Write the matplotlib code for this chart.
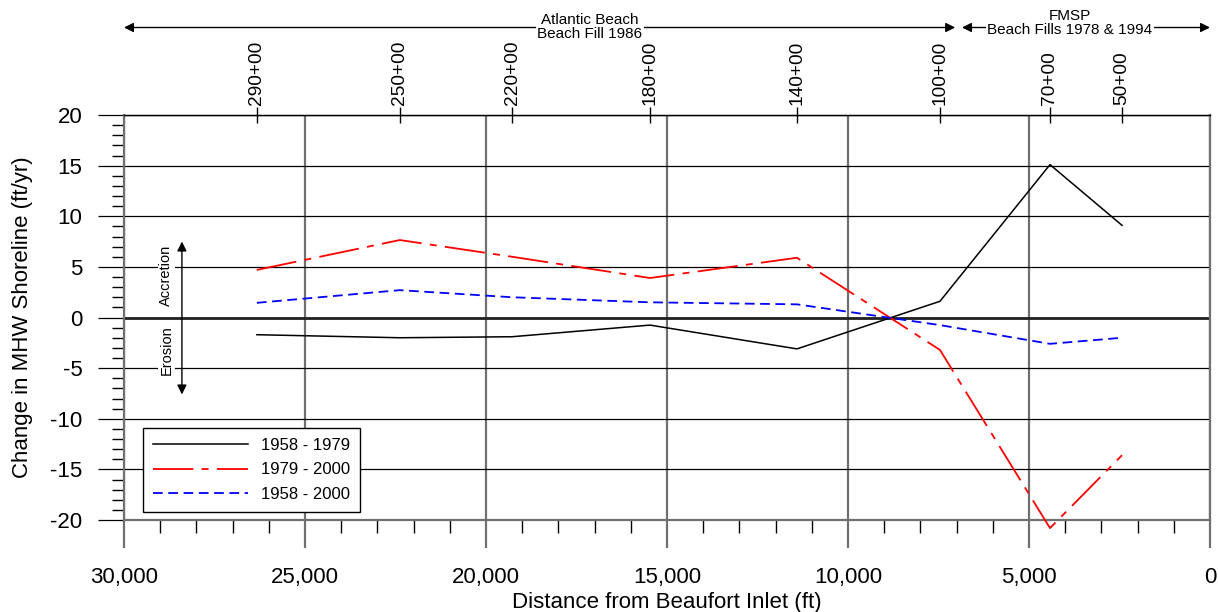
import matplotlib
matplotlib.use("Agg")
from matplotlib import pyplot as plt
from matplotlib.ticker import MultipleLocator, FuncFormatter

plt.rcParams['font.family'] = ['Liberation Sans', 'DejaVu Sans']
plt.rcParams['lines.scale_dashes'] = False

# stations along the beach (distance from Beaufort Inlet, ft)
stations = ["290+00", "250+00", "220+00", "180+00", "140+00", "100+00", "70+00", "50+00"]
distance = [26330, 22380, 19280, 15470, 11410, 7460, 4420, 2430]

# shoreline change rates (ft/yr)
rate_58_79 = [-1.7, -2.0, -1.9, -0.75, -3.1, 1.6, 15.1, 9.1]
rate_79_00 = [4.7, 7.65, 6.0, 3.9, 5.9, -3.2, -20.8, -13.6]
rate_58_00 = [1.45, 2.7, 2.0, 1.5, 1.3, -0.75, -2.6, -2.0]

fig = plt.figure(figsize=(12.18, 6.12), dpi=100)
ax = fig.add_axes([124 / 1218, 92 / 612, 1086 / 1218, 405 / 612])

ax.set_xlim(30000, 0)
ax.set_ylim(-20, 20)

# grid
ax.xaxis.set_major_locator(MultipleLocator(5000))
ax.xaxis.set_minor_locator(MultipleLocator(1000))
ax.yaxis.set_major_locator(MultipleLocator(5))
ax.yaxis.set_minor_locator(MultipleLocator(1))
ax.xaxis.set_major_formatter(FuncFormatter(lambda v, p: "{:,.0f}".format(v)))
ax.yaxis.set_major_formatter(FuncFormatter(lambda v, p: "%d" % v))
ax.grid(axis='x', which='major', color='#707070', lw=1.6)
ax.grid(axis='y', which='major', color='black', lw=0.9)
ax.axhline(0, color='#222222', lw=2.0, zorder=2)

ax.tick_params(axis='x', which='major', direction='out', length=20, width=1.6,
               color='#707070', pad=13.5, labelsize=16)
ax.tick_params(axis='x', which='minor', direction='out', length=9.5, width=1.0,
               color='black')
ax.tick_params(axis='y', which='major', direction='out', length=19, width=0.9,
               color='black', pad=11, labelsize=16)
ax.tick_params(axis='y', which='minor', direction='out', length=9, width=1.0,
               color='black')
for s in ['left', 'right', 'bottom']:
    ax.spines[s].set_color('#707070')
    ax.spines[s].set_linewidth(1.6)
ax.spines['top'].set_linewidth(1.0)

ax.plot(distance, rate_58_79, color='black', lw=1.1, label="1958 - 1979",
        zorder=3, clip_on=False)
ax.plot(distance, rate_79_00, color='red', lw=1.3, dashes=[29, 6, 5, 6],
        label="1979 - 2000", zorder=3, clip_on=False)
ax.plot(distance, rate_58_00, color='blue', lw=1.3, dashes=[7, 4],
        label="1958 - 2000", zorder=3, clip_on=False)

ax.set_xlabel("Distance from Beaufort Inlet (ft)", fontsize=16, labelpad=3)
ax.set_ylabel("Change in MHW Shoreline (ft/yr)", fontsize=16, labelpad=12)

leg = ax.legend(loc='lower left', bbox_to_anchor=(0.0175, 0.02), borderaxespad=0,
                fontsize=12, handlelength=5.7, fancybox=False, framealpha=1,
                edgecolor='black', labelspacing=0.57, borderpad=0.6)
leg.get_frame().set_linewidth(1.0)
leg.set_zorder(5)

# top axis with stations
top = ax.twiny()
top.set_xlim(ax.get_xlim())
top.set_xticks(distance)
top.set_xticklabels(stations, rotation=90, fontsize=13.8)
top.tick_params(axis='x', direction='inout', length=12, width=1.0, pad=1)
for s in ['left', 'right', 'bottom']:
    top.spines[s].set_visible(False)

# accretion / erosion arrow
ax.annotate("", xy=(28400, 7.5), xytext=(28400, -7.6),
            arrowprops=dict(arrowstyle='<|-|>', color='black', lw=1.0,
                            mutation_scale=14, shrinkA=0, shrinkB=0), zorder=4)
ax.text(28830, 4.2, "Accretion", rotation=90, ha='center', va='center', fontsize=10.5,
        bbox=dict(facecolor='white', edgecolor='none', pad=1), zorder=4)
ax.text(28830, -3.2, "Erosion", rotation=90, ha='center', va='center', fontsize=10.5,
        bbox=dict(facecolor='white', edgecolor='none', pad=1), zorder=4)

# beach fill reaches along the top
tr = ax.get_xaxis_transform()
y_arrow = (612 - 27.5 - 92) / 405
ax.annotate("", xy=(30000, y_arrow), xytext=(7040, y_arrow), xycoords=tr, textcoords=tr,
            arrowprops=dict(arrowstyle='<|-|>', color='black', lw=1.0,
                            mutation_scale=14, shrinkA=0, shrinkB=0), annotation_clip=False)
ax.annotate("", xy=(6850, y_arrow), xytext=(0, y_arrow), xycoords=tr, textcoords=tr,
            arrowprops=dict(arrowstyle='<|-|>', color='black', lw=1.0,
                            mutation_scale=14, shrinkA=0, shrinkB=0), annotation_clip=False)
ax.text(17130, (612 - 27 - 92) / 405, "Atlantic Beach\nBeach Fill 1986", transform=tr,
        ha='center', va='center', fontsize=11, linespacing=1.0, clip_on=False,
        bbox=dict(facecolor='white', edgecolor='none', pad=1))
ax.text(3870, (612 - 23.5 - 92) / 405, "FMSP\nBeach Fills 1978 & 1994", transform=tr,
        ha='center', va='center', fontsize=11, linespacing=1.0, clip_on=False,
        bbox=dict(facecolor='white', edgecolor='none', pad=1))

fig.savefig("out.png", dpi=100)
